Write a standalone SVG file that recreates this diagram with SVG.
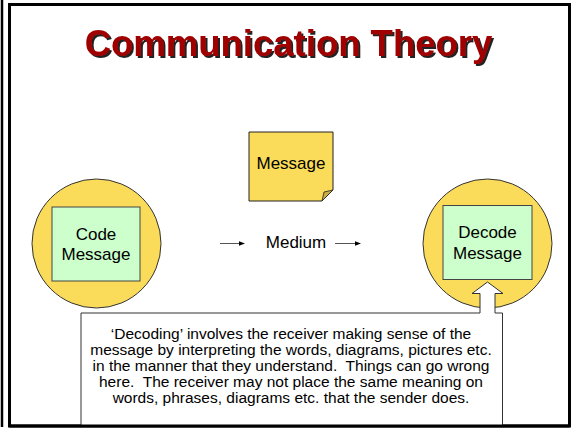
<svg xmlns="http://www.w3.org/2000/svg" width="573" height="431" viewBox="0 0 573 431">
  <defs>
    <marker id="ah" markerWidth="6" markerHeight="6" refX="5" refY="3" orient="auto" markerUnits="userSpaceOnUse">
      <path d="M0,0.8 L6,3 L0,5.2 Z" fill="#000"/>
    </marker>
    <filter id="shadow" x="-5%" y="-20%" width="110%" height="140%">
      <feDropShadow dx="2" dy="2" stdDeviation="0" flood-color="#222" flood-opacity="1"/>
    </filter>
  </defs>
  <style>
    .lbl { font-family: "Liberation Sans", Arial, sans-serif; font-size: 17px; fill: #000; text-anchor: middle; }
    .body { font-family: "Liberation Sans", Arial, sans-serif; font-size: 15.5px; fill: #000; text-anchor: middle; white-space: pre; }
    .title { font-family: "Liberation Sans", Arial, sans-serif; font-size: 36.5px; font-weight: bold; text-anchor: middle; fill: #A00000; filter: url(#shadow); }
    .circ { fill: #FADC5A; stroke: #333; stroke-width: 1; }
    .box { fill: #CCFFCC; stroke: #444; stroke-width: 1; }
    .conn { stroke: #555; stroke-width: 1; fill: none; }
  </style>

  <rect x="0" y="0" width="573" height="431" fill="#fff"/>
  <g id="frame">
    <line x1="2" y1="0" x2="2" y2="427" stroke="#000" stroke-width="2.5"/>
    <rect x="9.5" y="4.5" width="560" height="421.5" fill="#fff" stroke="#000" stroke-width="3"/>
  </g>

  <g id="title">
    <text class="title" x="288.5" y="56">Communication Theory</text>
  </g>

  <g id="code">
    <circle class="circ" cx="96.5" cy="243.5" r="64.5"/>
    <rect class="box" x="52" y="207" width="88" height="74"/>
    <text class="lbl" x="96" y="240">Code</text>
    <text class="lbl" x="96" y="260">Message</text>
  </g>

  <g id="decode">
    <circle class="circ" cx="487.5" cy="243.5" r="64.5"/>
    <rect class="box" x="443" y="205.5" width="89" height="74"/>
    <text class="lbl" x="487.5" y="238">Decode</text>
    <text class="lbl" x="487.5" y="259">Message</text>
  </g>

  <g id="message">
    <path d="M249,132 H333 V190 L322,201 H249 Z" fill="#FADC5A" stroke="#222" stroke-width="1"/>
    <path d="M333,190 L324,192 L322,201 Z" fill="#C8AC45" stroke="#222" stroke-width="0.8"/>
    <text class="lbl" x="291" y="169">Message</text>
  </g>

  <g id="medium">
    <text class="lbl" x="296" y="248">Medium</text>
  </g>

  <g id="connectors">
    <line class="conn" x1="220" y1="243.5" x2="244" y2="243.5" marker-end="url(#ah)"/>
    <line class="conn" x1="335" y1="243.5" x2="360" y2="243.5" marker-end="url(#ah)"/>
  </g>

  <g id="callout">
    <path d="M81,313 H480 V293.5 H472 L487.5,282 L503,293.5 H495 V313 H502.5 V426 H81 Z" fill="#fff" stroke="#333" stroke-width="1"/>
    <text class="body" x="291" y="338.5">‘Decoding’ involves the receiver making sense of the</text>
    <text class="body" x="291" y="354.7">message by interpreting the words, diagrams, pictures etc.</text>
    <text class="body" x="291" y="370.9">in the manner that they understand.  Things can go wrong</text>
    <text class="body" x="291" y="387.1">here.  The receiver may not place the same meaning on</text>
    <text class="body" x="291" y="403.3">words, phrases, diagrams etc. that the sender does.</text>
  </g>
  <line x1="9.5" y1="426" x2="569.5" y2="426" stroke="#000" stroke-width="3"/>
</svg>
